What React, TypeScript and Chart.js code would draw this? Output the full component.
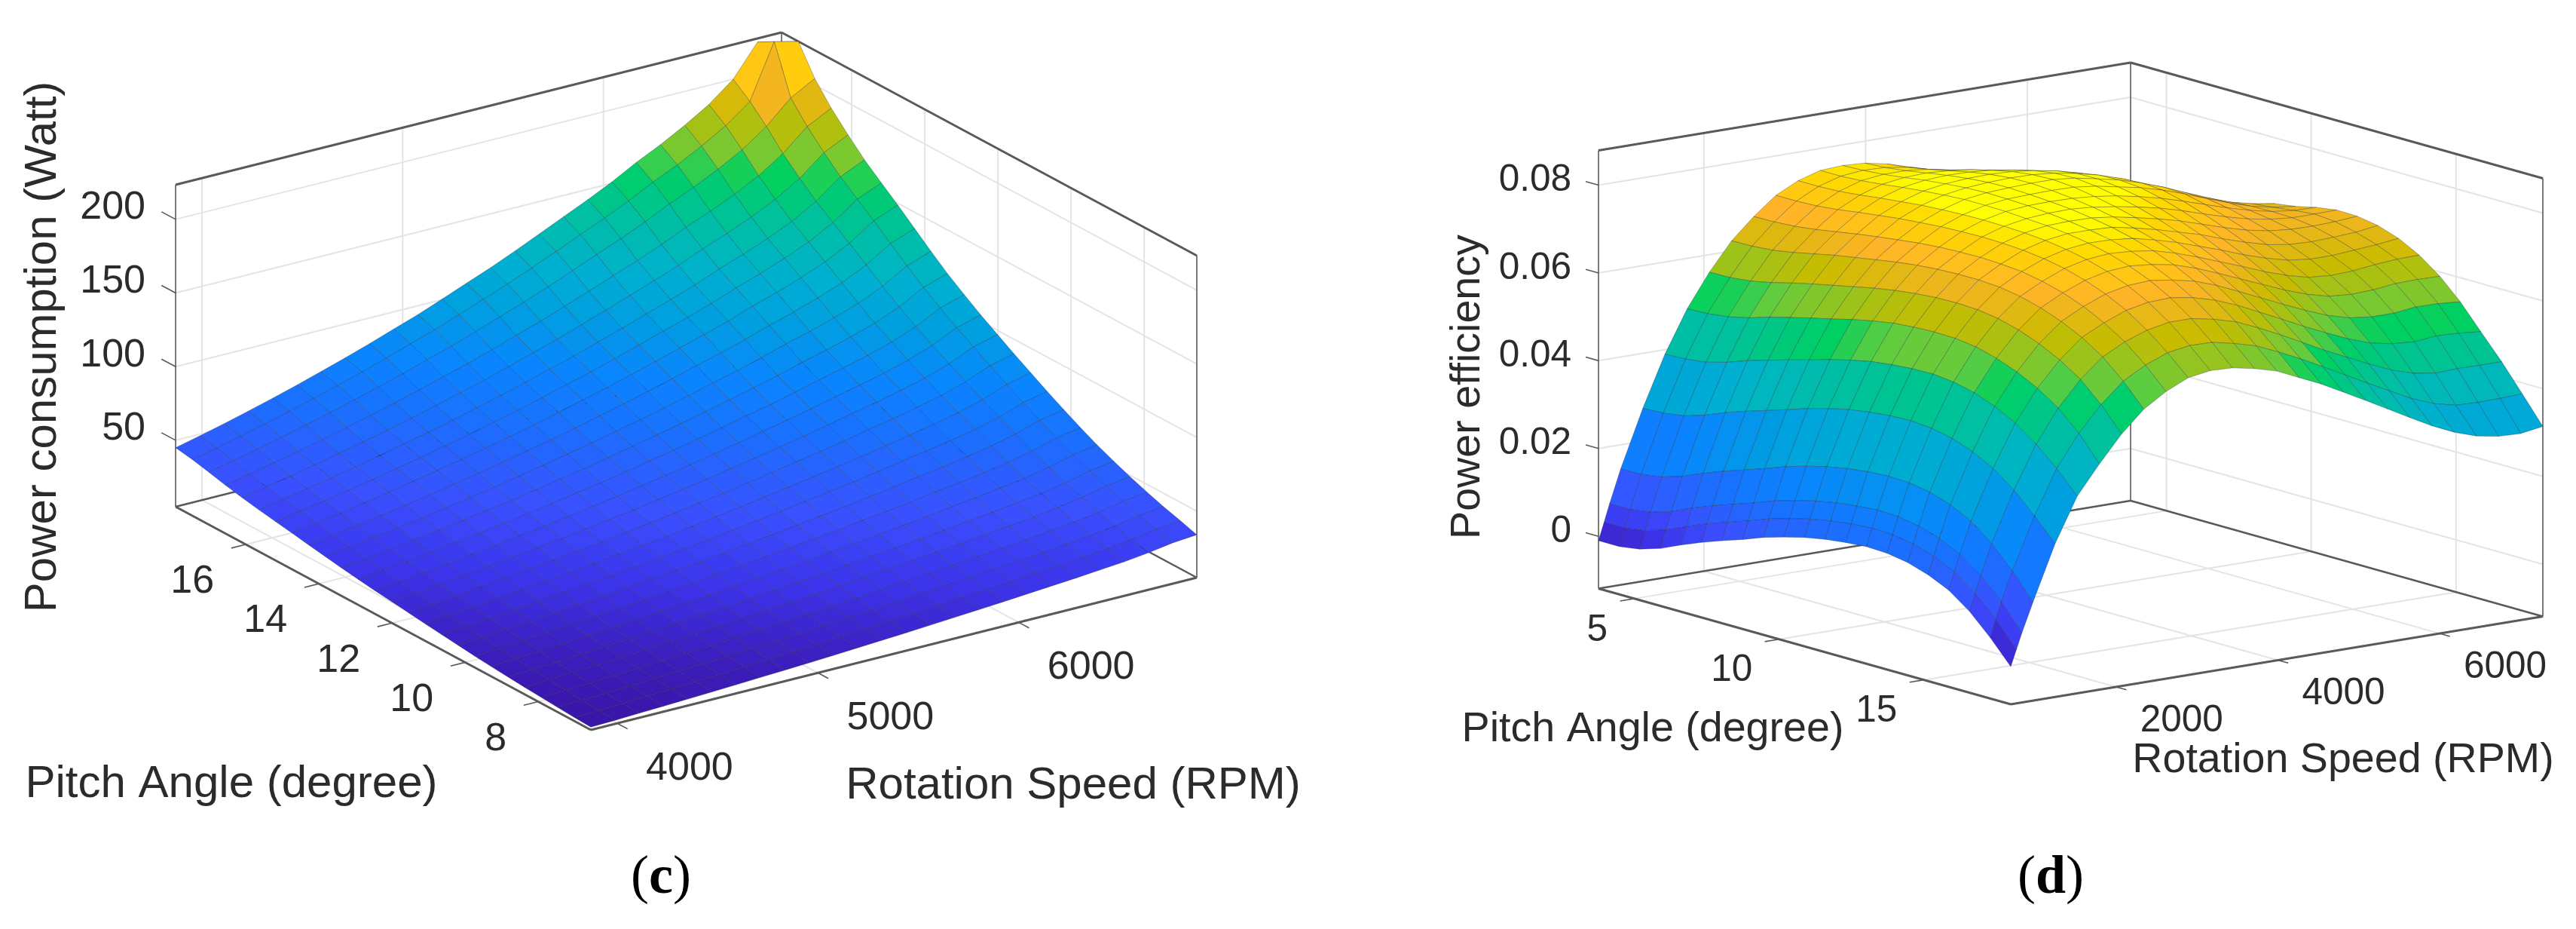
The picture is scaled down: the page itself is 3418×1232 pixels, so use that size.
import React, { useEffect, useRef } from "react";
import { Chart, registerables } from "chart.js";

Chart.register(...registerables);

// ---------- panel (c) data ----------
const rpmC = [3869,3990,4110,4231,4352,4473,4593,4714,4835,4956,5076,5197,5318,5439,5559,5680,5801,5922,6042,6163,6284,6405,6525,6646,6767,6887];
const pitchC = [6.56,7.01,7.47,7.92,8.38,8.83,9.29,9.74,10.2,10.65,11.1,11.56,12.01,12.47,12.92,13.38,13.83,14.28,14.74,15.19,15.65,16.1,16.56,17.01,17.46,17.92];
const rpmTicksC = [4000, 5000, 6000];
const pitchTicksC = [8, 10, 12, 14, 16];
const powerTicks = [50, 100, 150, 200];
// one row per rpmC value, one column per pitchC value (Watt)
const powerConsumption = [
[6.8,7.4,8.1,8.9,9.7,10.6,11.6,12.7,14,15.2,16.5,17.9,19.3,20.7,22.2,23.9,25.7,27.5,29.5,31.3,33.2,35.3,37.7,40.5,43,45],
[7.3,8.1,8.8,9.6,10.6,11.5,12.6,13.8,15.2,16.5,17.9,19.4,20.9,22.5,24.2,25.9,27.9,29.9,32,34,36,38.4,41,44,46.7,48.9],
[8,8.7,9.5,10.4,11.4,12.5,13.7,15,16.4,17.9,19.5,21,22.7,24.4,26.2,28.1,30.2,32.4,34.7,36.8,39.1,41.6,44.4,47.7,50.6,53],
[8.6,9.5,10.3,11.3,12.4,13.5,14.8,16.2,17.8,19.4,21.1,22.8,24.6,26.4,28.4,30.4,32.7,35.1,37.6,39.9,42.3,45.1,48.1,51.7,54.8,57.4],
[9.3,10.2,11.2,12.2,13.4,14.6,16,17.5,19.2,21,22.8,24.6,26.5,28.5,30.6,32.9,35.3,37.9,40.6,43.1,45.7,48.7,52,55.8,59.2,62],
[10,11,12,13.2,14.4,15.8,17.2,18.9,20.7,22.6,24.5,26.5,28.6,30.7,33,35.4,38.1,40.9,43.8,46.4,49.2,52.4,56,60.1,63.8,66.8],
[10.8,11.8,12.9,14.1,15.5,16.9,18.5,20.3,22.3,24.3,26.4,28.5,30.7,33,35.5,38.1,40.9,43.9,47,49.9,52.9,56.4,60.2,64.6,68.6,71.8],
[11.6,12.7,13.9,15.2,16.6,18.2,19.9,21.8,23.9,26,28.3,30.6,33,35.4,38,40.8,43.9,47.1,50.4,53.5,56.7,60.4,64.5,69.3,73.5,77],
[12.4,13.6,14.9,16.3,17.8,19.5,21.3,23.3,25.6,27.9,30.3,32.8,35.3,38,40.8,43.7,47,50.5,54,57.3,60.8,64.8,69.1,74.3,78.8,82.5],
[13.2,14.6,15.9,17.4,19.1,20.8,22.8,25,27.4,29.8,32.4,35.1,37.8,40.6,43.6,46.8,50.3,54,57.8,61.4,65.1,69.3,74,79.5,84.3,88.3],
[14.1,15.5,16.9,18.5,20.3,22.2,24.3,26.6,29.1,31.8,34.5,37.3,40.2,43.2,46.4,49.8,53.6,57.5,61.6,65.3,69.3,73.8,78.8,84.6,89.8,94],
[15.1,16.6,18.1,19.8,21.7,23.7,25.9,28.4,31.1,33.9,36.8,39.9,43,46.2,49.6,53.2,57.2,61.4,65.8,69.8,74,78.8,84.1,90.4,95.9,100.4],
[16.1,17.7,19.3,21.1,23.1,25.3,27.6,30.3,33.2,36.2,39.3,42.5,45.8,49.2,52.9,56.7,61,65.5,70.1,74.4,78.9,84,89.7,96.3,102.2,107],
[17,18.7,20.4,22.4,24.5,26.8,29.3,32.1,35.2,38.4,41.7,45.1,48.6,52.2,56.1,60.2,64.7,69.5,74.3,78.9,83.6,89.1,95.1,102.2,108.4,113.5],
[18.1,19.9,21.7,23.8,26,28.5,31.1,34.1,37.4,40.8,44.3,47.9,51.6,55.5,59.6,63.9,68.7,73.8,79,83.8,88.9,94.7,101.1,108.5,115.2,120.6],
[19.2,21.1,23,25.2,27.6,30.2,33,36.2,39.7,43.3,47,50.8,54.8,58.9,63.2,67.8,73,78.3,83.8,89,94.3,100.5,107.3,115.2,122.2,128],
[20.3,22.4,24.4,26.7,29.3,32,35,38.4,42,45.8,49.8,53.8,58,62.4,67,71.9,77.3,83,88.8,94.2,99.9,106.4,113.6,122,129.5,135.6],
[21.5,23.6,25.7,28.2,30.9,33.7,36.9,40.5,44.3,48.3,52.5,56.8,61.2,65.8,70.6,75.8,81.5,87.5,93.7,99.4,105.4,112.3,119.8,128.7,136.6,143],
[22.7,24.9,27.2,29.7,32.6,35.6,39,42.7,46.8,51,55.4,59.9,64.6,69.5,74.6,80,86.1,92.4,98.9,104.9,111.3,118.5,126.5,135.9,144.2,151],
[24,26.4,28.8,31.5,34.6,37.8,41.3,45.3,49.6,54.1,58.7,63.5,68.5,73.6,79,84.8,91.2,97.9,104.8,111.2,117.9,125.6,134.1,144,152.8,160],
[25.2,27.7,30.2,33.1,36.3,39.6,43.3,47.5,52.1,56.8,61.7,66.7,71.9,77.3,83,89,95.8,102.8,110,116.8,123.8,131.9,140.8,151.2,160.4,168],
[26.6,29.2,31.9,34.9,38.2,41.8,45.7,50.1,54.9,59.8,65,70.3,75.8,81.4,87.4,93.8,100.9,108.3,115.9,123,130.4,138.9,148.3,159.3,169,177],
[28,30.9,33.7,36.8,40.4,44.1,48.2,52.9,58,63.2,68.6,74.2,80,86,92.4,99.1,106.6,114.4,122.5,130,137.8,146.8,156.7,168.3,178.6,187],
[30,33,36,39.4,43.2,47.2,51.6,56.6,62,67.6,73.4,79.4,85.6,92,98.8,106,114,122.4,131,139,147.4,157,167.6,180,191,200],
[32.6,35.8,39.1,42.7,46.9,51.2,56,61.4,67.3,73.3,79.6,86.1,92.9,99.8,107.2,115,123.7,132.8,142.1,150.8,159.9,170.3,181.8,195.3,227.5,221],
[34,37.5,40.9,44.7,49,53.6,58.6,64.2,70.4,76.7,83.3,90.1,97.2,104.4,112.1,120.3,129.4,138.9,148.7,157.8,167.3,178.2,190.2,204.3,223.5,217],
];

// ---------- panel (d) data ----------
const rpmD = [697,766,834,971,1245,1519,1793,2068,2342,2616,2890,3164,3438,3712,3987,4261,4535,4809,5083,5357,5631,5905,6180,6454,6728,7002,7276];
const pitchD = [3.76,4.47,5.18,5.9,6.61,7.32,8.03,8.74,9.46,10.17,10.88,11.59,12.3,13.02,13.73,14.44,15.15,15.86,16.58,17.29,18];
const rpmTicksD = [2000, 4000, 6000];
const pitchTicksD = [5, 10, 15];
const efficiencyTicks = [0, 0.02, 0.04, 0.06, 0.08];
// one row per rpmD value, one column per pitchD value (efficiency x 1000)
const efficiencyMilli = [
[-1,-1,-0.3,1.2,3.3,5.2,6.9,8.5,10.3,11.7,12.9,13.8,14.4,14.8,14.6,13.8,12.3,10.1,6.6,2,-3.3],
[3,3,3.7,5.2,7.3,9.2,10.9,12.5,14.3,15.7,16.9,17.8,18.4,18.8,18.6,17.8,16.3,14,10.5,5.9,0.3],
[7,7,7.7,9.2,11.3,13.1,14.8,16.4,18.2,19.6,20.8,21.7,22.3,22.7,22.5,21.7,20.2,17.9,14.4,9.7,3.9],
[14.5,14.6,15.3,16.8,18.8,20.6,22.2,23.8,25.6,27,28.2,29.1,29.7,30,29.8,29,27.4,25,21.3,16.3,10.5],
[27.5,27.7,28.4,29.9,31.8,33.4,34.9,36.4,38,39.3,40.4,41.1,41.6,41.8,41.4,40.4,38.7,36.2,32.6,28,23],
[39,39.2,39.8,41.1,42.8,44.2,45.6,46.9,48.3,49.5,50.5,51.1,51.5,51.6,51.1,50,48.2,45.7,42.2,38,33],
[48.5,48.7,49.3,50.4,51.9,53.1,54.3,55.4,56.6,57.6,58.4,58.8,59,58.9,58.3,57,55.2,52.8,49.6,45.2,39.5],
[56,56.1,56.6,57.6,58.8,59.9,60.9,61.9,62.9,63.7,64.3,64.7,64.8,64.6,63.9,62.6,60.8,58.4,55.3,50.9,45.5],
[62.3,62.4,62.8,63.6,64.6,65.6,66.4,67.2,68,68.6,69,69.2,69.2,68.9,68.1,66.8,65,62.7,59.6,55.4,50.3],
[67,67.1,67.4,68,68.8,69.6,70.3,70.9,71.5,71.9,72.1,72.2,72,71.6,70.7,69.4,67.6,65.2,62.2,58.2,53.5],
[71,71,71.2,71.7,72.4,73,73.6,74,74.4,74.6,74.7,74.6,74.3,73.7,72.8,71.4,69.6,67.2,64,60.2,55.8],
[73.5,73.5,73.7,74.2,74.8,75.3,75.8,76.1,76.3,76.4,76.3,76.1,75.7,75,74,72.6,70.7,68.2,65,61,56.6],
[75,75,75.3,75.8,76.4,76.9,77.3,77.6,77.6,77.5,77.2,76.9,76.4,75.6,74.5,73,71,68.4,65,60.9,56.4],
[75.3,75.5,75.9,76.5,77.2,77.7,78.1,78.3,78.2,78,77.6,77.1,76.4,75.5,74.2,72.5,70.3,67.6,64,59.8,55.4],
[75,75.3,75.9,76.7,77.5,78.1,78.5,78.6,78.4,78.1,77.7,77,76.2,75,73.5,71.6,69.2,66.2,62.6,58.4,54],
[74,74.5,75.4,76.4,77.4,78.2,78.7,78.8,78.5,78,77.3,76.4,75.2,73.8,72.1,70,67.4,64.2,60.4,56.2,51.7],
[72.5,73.2,74.4,75.8,77,78,78.6,78.8,78.4,77.6,76.6,75.4,74,72.4,70.4,68,65.2,61.8,58,53.8,49.4],
[70.5,71.6,73.2,74.8,76.2,77.4,78.1,78.3,77.8,76.9,75.7,74.3,72.6,70.7,68.5,65.9,62.9,59.4,55.4,51.2,46.7],
[68,69.6,71.6,73.5,75.2,76.5,77.2,77.3,76.8,75.9,74.6,73,71.2,69,66.6,63.8,60.6,56.9,52.8,48.5,44],
[65,67.1,69.6,71.9,73.9,75.2,76,76.2,75.8,74.7,73.2,71.4,69.4,67.1,64.6,61.7,58.4,54.6,50.4,45.8,41.2],
[62,64.4,67.2,69.8,71.9,73.4,74.4,74.7,74.4,73.2,71.6,69.8,67.8,65.5,62.9,59.9,56.4,52.4,48,43.2,38.4],
[59,61.6,64.6,67.2,69.4,71.2,72.4,72.9,72.7,71.6,70.1,68.4,66.4,64.2,61.6,58.6,55,50.6,45.8,40.6,35.7],
[56,58.6,61.8,64.5,66.8,68.8,70.1,70.8,70.8,70,68.8,67.4,65.6,63.6,61.2,58.2,54.4,49.6,44.2,38.6,33.4],
[53.5,56,59.2,62,64.3,66.4,67.9,68.8,69,68.6,67.9,66.9,65.4,63.6,61.4,58.4,54.4,49.2,43.4,37.4,31.7],
[51,53.6,57,59.6,62,64,65.7,67,67.4,67.5,67.4,66.8,65.6,64,62,59,55,49.7,43.6,37.2,30.8],
[49,52,55.6,58.4,60.2,62.6,64.3,65.8,66.3,66.9,67.4,67,65.9,64.4,62.4,59.1,54.9,49.5,43.5,37.3,30.6],
[47,51,55,58,59.5,62,63.5,65,65.7,66.8,67.5,67.4,66.6,65,62.5,59,54.5,49,43.5,37.5,31.4],
];
const efficiencyD = efficiencyMilli.map((r) => r.map((v) => v / 1000));

// ---------- colours ----------
const colourStops: [number, number[]][] = [
  [0, [58, 20, 168]], [0.03, [60, 30, 190]], [0.08, [60, 52, 235]], [0.15, [58, 80, 255]], [0.25, [26, 112, 255]],
  [0.33, [10, 133, 255]], [0.42, [0, 159, 224]], [0.5, [0, 176, 208]], [0.6, [0, 192, 160]],
  [0.69, [0, 208, 96]], [0.72, [96, 204, 64]], [0.82, [200, 188, 0]], [0.9, [255, 180, 40]],
  [0.97, [255, 216, 0]], [1, [255, 255, 0]],
];
function colourAt(n: number) {
  const v = Math.max(0, Math.min(1, n));
  for (let i = 1; i < colourStops.length; i++) {
    const [a, ca] = colourStops[i - 1];
    const [b, cb] = colourStops[i];
    if (v <= b) {
      const f = (v - a) / (b - a);
      return `rgb(${ca.map((c, k) => Math.round(c + (cb[k] - c) * f)).join(",")})`;
    }
  }
  return "rgb(255,255,0)";
}

const TEXT = "#2b2b2b";
const EDGE = "#595959";
const GRID = "#e4e4e4";
const SANS = '"Liberation Sans"';
const SERIF = '"Liberation Serif"';

const panels = [
  {
    left: 0, width: 1850,
    rpm: rpmC, pitch: pitchC, z: powerConsumption,
    rpmTicks: rpmTicksC, pitchTicks: pitchTicksC, zTicks: powerTicks,
    rpmRange: [3869, 6887], pitchRange: [6.56, 17.92], zRange: [4.9, 223.5], colourRange: [7, 224],
    origin: [784, 968], vecR: [804, -202], vecP: [-551, -296], height: 427,
    nearP: 0,
    tickFont: 52, titleFont: 60,
    rpmLabel: [96, 60], pitchLabel: [-42, 50], zLabel: [-40, -15],
    zTickLen: 0.034, rpmTickLen: 0.025, pitchTickLen: 0.024,
    formatZ: (v: number) => String(v),
    titles: [
      { text: "Pitch Angle (degree)", x: 307, y: 1040, rot: 0 },
      { text: "Rotation Speed (RPM)", x: 1424, y: 1042, rot: 0 },
      { text: "Power consumption (Watt)", x: 57, y: 460, rot: -Math.PI / 2 },
    ],
    caption: { before: "(", bold: "c", after: ")", x: 877, y: 1165 },
  },
  {
    left: 1850, width: 1568,
    rpm: rpmD, pitch: pitchD, z: efficiencyD,
    rpmTicks: rpmTicksD, pitchTicks: pitchTicksD, zTicks: efficiencyTicks,
    rpmRange: [697, 7276], pitchRange: [3.76, 18], zRange: [-0.0119, 0.0879], colourRange: [-0.0035, 0.077],
    origin: [2121, 780.5], vecR: [706, -116.5], vecP: [547, 153.5], height: 581,
    nearP: 1,
    tickFont: 49.5, titleFont: 55.6,
    rpmLabel: [87, 45], pitchLabel: [-35.5, 42], zLabel: [-36, -6],
    zTickLen: 0.031, rpmTickLen: 0.025, pitchTickLen: 0.027,
    formatZ: (v: number) => String(v),
    titles: [
      { text: "Pitch Angle (degree)", x: 2193, y: 968, rot: 0 },
      { text: "Rotation Speed (RPM)", x: 3109, y: 1009, rot: 0 },
      { text: "Power efficiency", x: 1948, y: 513, rot: -Math.PI / 2 },
    ],
    caption: { before: "(", bold: "d", after: ")", x: 2721, y: 1165 },
  },
];

type Panel = (typeof panels)[number];

function buildDatasets(p: Panel) {
  const tR = (v: number) => (v - p.rpmRange[0]) / (p.rpmRange[1] - p.rpmRange[0]);
  const tP = (v: number) => (v - p.pitchRange[0]) / (p.pitchRange[1] - p.pitchRange[0]);
  const tZ = (v: number) => (v - p.zRange[0]) / (p.zRange[1] - p.zRange[0]);
  const at = (r: number, q: number, h: number) => ({
    x: p.origin[0] + r * p.vecR[0] + q * p.vecP[0],
    y: p.origin[1] + r * p.vecR[1] + q * p.vecP[1] - h * p.height,
  });
  const line = (a: any, b: any, color: string, w: number) => ({
    data: [a, b], showLine: true, pointRadius: 0, borderColor: color, borderWidth: w, fill: false, tension: 0,
  });
  const far = 1 - p.nearP;
  const out = p.nearP === 0 ? -1 : 1; // direction past the near pitch edge
  const draw: any[] = [];

  // walls and floor grid
  for (const v of p.zTicks) {
    const h = tZ(v);
    draw.push(line(at(0, far, h), at(1, far, h), GRID, 2));
    draw.push(line(at(1, far, h), at(1, p.nearP, h), GRID, 2));
  }
  for (const v of p.rpmTicks) {
    const r = tR(v);
    draw.push(line(at(r, far, 0), at(r, far, 1), GRID, 2));
    draw.push(line(at(r, far, 0), at(r, p.nearP, 0), GRID, 2));
  }
  for (const v of p.pitchTicks) {
    const q = tP(v);
    draw.push(line(at(1, q, 0), at(1, q, 1), GRID, 2));
    draw.push(line(at(1, q, 0), at(0, q, 0), GRID, 2));
  }
  // box
  const L = [0, far], B = [1, far], R = [1, p.nearP], F = [0, p.nearP];
  draw.push(line(at(L[0], L[1], 1), at(B[0], B[1], 1), EDGE, 3));
  draw.push(line(at(B[0], B[1], 1), at(R[0], R[1], 1), EDGE, 3));
  draw.push(line(at(L[0], L[1], 0), at(B[0], B[1], 0), EDGE, 2.5));
  draw.push(line(at(B[0], B[1], 0), at(R[0], R[1], 0), EDGE, 2.5));
  draw.push(line(at(L[0], L[1], 0), at(F[0], F[1], 0), EDGE, 3));
  draw.push(line(at(F[0], F[1], 0), at(R[0], R[1], 0), EDGE, 3));
  draw.push(line(at(L[0], L[1], 0), at(L[0], L[1], 1), EDGE, 1.6));
  draw.push(line(at(R[0], R[1], 0), at(R[0], R[1], 1), EDGE, 1.6));
  draw.push(line(at(B[0], B[1], 0), at(B[0], B[1], 1), EDGE, 1.6));
  // tick marks
  for (const v of p.zTicks) {
    const h = tZ(v);
    const q = far === 1 ? 1 + p.zTickLen : -p.zTickLen;
    draw.push(line(at(0, far, h), at(0, q, h), EDGE, 1.6));
  }
  for (const v of p.rpmTicks) {
    const r = tR(v);
    draw.push(line(at(r, p.nearP, 0), at(r, p.nearP + out * p.rpmTickLen, 0), EDGE, 1.6));
  }
  for (const v of p.pitchTicks) {
    const q = tP(v);
    draw.push(line(at(0, q, 0), at(-p.pitchTickLen, q, 0), EDGE, 1.6));
  }

  // surface, far cells first
  const nR = p.rpm.length, nP = p.pitch.length;
  const cols = Array.from({ length: nP - 1 }, (_, j) => j);
  if (p.nearP === 0) cols.reverse();
  for (let i = nR - 2; i >= 0; i--) {
    for (const j of cols) {
      const corners = [[i, j], [i + 1, j], [i + 1, j + 1], [i, j + 1]];
      const pts = corners.map(([a, b]) => at(tR(p.rpm[a]), tP(p.pitch[b]), tZ(p.z[a][b])));
      const mean = corners.reduce((s, [a, b]) => s + p.z[a][b], 0) / 4;
      const n = (mean - p.colourRange[0]) / (p.colourRange[1] - p.colourRange[0]);
      draw.push({
        data: [...pts, pts[0]],
        showLine: true, pointRadius: 0, tension: 0,
        fill: "shape",
        backgroundColor: colourAt(n),
        borderColor: "rgba(20,30,40,0.30)",
        borderWidth: 1,
      });
    }
  }
  return { datasets: draw.reverse(), at, tR, tP, tZ };
}

function makeChart(canvas: HTMLCanvasElement, p: Panel) {
  const { datasets, at, tR, tP, tZ } = buildDatasets(p);
  const far = 1 - p.nearP;
  const textPlugin = {
    id: "panelText",
    afterDraw(chart: any) {
      const { ctx, scales } = chart;
      const px = (x: number) => scales.x.getPixelForValue(x);
      const py = (y: number) => scales.y.getPixelForValue(y);
      ctx.save();
      ctx.fillStyle = TEXT;
      ctx.textBaseline = "middle";
      ctx.font = `${p.tickFont}px ${SANS}`;
      ctx.textAlign = "right";
      for (const v of p.zTicks) {
        const a = at(0, far, tZ(v));
        ctx.fillText(p.formatZ(v), px(a.x + p.zLabel[0]), py(a.y + p.zLabel[1]));
      }
      for (const v of p.pitchTicks) {
        const a = at(0, tP(v), 0);
        ctx.fillText(String(v), px(a.x + p.pitchLabel[0]), py(a.y + p.pitchLabel[1]));
      }
      ctx.textAlign = "center";
      for (const v of p.rpmTicks) {
        const a = at(tR(v), p.nearP, 0);
        ctx.fillText(String(v), px(a.x + p.rpmLabel[0]), py(a.y + p.rpmLabel[1]));
      }
      ctx.font = `${p.titleFont}px ${SANS}`;
      for (const t of p.titles) {
        ctx.save();
        ctx.translate(px(t.x), py(t.y));
        ctx.rotate(t.rot);
        ctx.fillText(t.text, 0, 0);
        ctx.restore();
      }
      // panel caption
      const c = p.caption;
      const reg = `72px ${SERIF}`;
      const bold = `bold 72px ${SERIF}`;
      ctx.fillStyle = "#000";
      ctx.textAlign = "left";
      ctx.font = reg;
      const w1 = ctx.measureText(c.before).width;
      const w3 = ctx.measureText(c.after).width;
      ctx.font = bold;
      const w2 = ctx.measureText(c.bold).width;
      let x = px(c.x) - (w1 + w2 + w3) / 2;
      const y = py(c.y);
      ctx.font = reg;
      ctx.fillText(c.before, x, y);
      x += w1;
      ctx.font = bold;
      ctx.fillText(c.bold, x, y);
      x += w2;
      ctx.font = reg;
      ctx.fillText(c.after, x, y);
      ctx.restore();
    },
  };
  return new Chart(canvas, {
    type: "scatter",
    data: { datasets },
    options: {
      animation: false,
      responsive: false,
      events: [],
      layout: { padding: 0 },
      plugins: { legend: { display: false }, tooltip: { enabled: false }, title: { display: false } },
      scales: {
        x: { type: "linear", display: false, min: p.left, max: p.left + p.width },
        y: { type: "linear", display: false, min: 0, max: 1232, reverse: true },
      },
    },
    plugins: [textPlugin],
  } as any);
}

export default function App() {
  const refs = [useRef<HTMLCanvasElement>(null), useRef<HTMLCanvasElement>(null)];
  useEffect(() => {
    const charts = panels.map((p, i) => makeChart(refs[i].current!, p));
    return () => charts.forEach((c) => c.destroy());
  }, []);
  return (
    <div style={{ position: "absolute", left: 0, top: 0, width: 3418, height: 1232, background: "#fff", overflow: "hidden" }}>
      {panels.map((p, i) => (
        <canvas
          key={i}
          ref={refs[i]}
          width={p.width}
          height={1232}
          style={{ position: "absolute", left: p.left, top: 0, width: p.width, height: 1232 }}
        />
      ))}
    </div>
  );
}
